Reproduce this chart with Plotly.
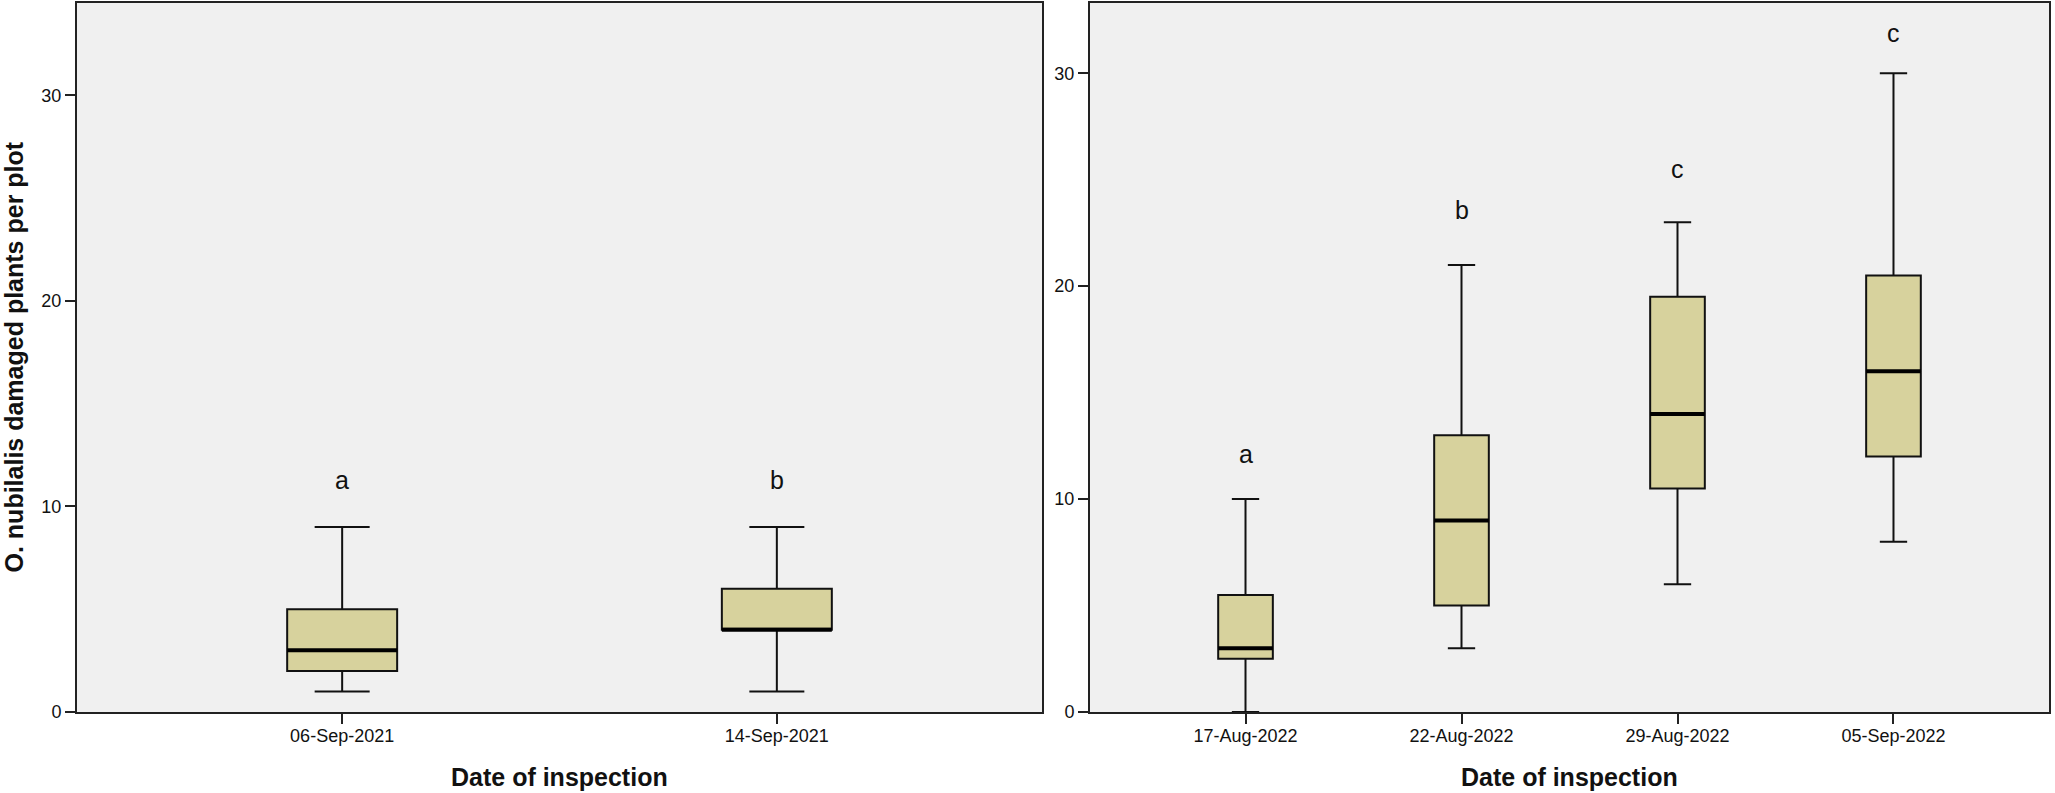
import plotly.graph_objects as go

# ---- data ----
left_dates = ["06-Sep-2021", "14-Sep-2021"]
left_low = [1, 1]
left_q1 = [2, 4]
left_med = [3, 4]
left_q3 = [5, 6]
left_high = [9, 9]
left_letters = ["a", "b"]
left_letter_y = [11.3, 11.3]

right_dates = ["17-Aug-2022", "22-Aug-2022", "29-Aug-2022", "05-Sep-2022"]
right_low = [0, 3, 6, 8]
right_q1 = [2.5, 5, 10.5, 12]
right_med = [3, 9, 14, 16]
right_q3 = [5.5, 13, 19.5, 20.5]
right_high = [10, 21, 23, 30]
right_letters = ["a", "b", "c", "c"]
right_letter_y = [12.1, 23.6, 25.5, 31.9]

y_ticks = [0, 10, 20, 30]

# ---- style ----
W, H = 2055, 793
BOX_W = 0.253
FILL = "#d7d29d"
BG = "#f0f0f0"
FONT = "Liberation Sans, Arial, sans-serif"

fig = go.Figure()


def add_panel(dates, low, q1, med, q3, high, xa, ya):
    pos = list(range(len(dates)))
    fig.add_trace(go.Box(
        x=pos, q1=q1, median=med, q3=q3, lowerfence=low, upperfence=high,
        width=BOX_W, whiskerwidth=0.5, fillcolor=FILL,
        line=dict(color="#111111", width=2), boxpoints=False,
        xaxis=xa, yaxis=ya, showlegend=False, hoverinfo="skip"))
    mx, my = [], []
    for p, m in zip(pos, med):
        mx += [p - BOX_W / 2, p + BOX_W / 2, None]
        my += [m, m, None]
    fig.add_trace(go.Scatter(x=mx, y=my, mode="lines",
                             line=dict(color="black", width=4),
                             xaxis=xa, yaxis=ya, showlegend=False,
                             hoverinfo="skip"))


add_panel(left_dates, left_low, left_q1, left_med, left_q3, left_high, "x", "y")
add_panel(right_dates, right_low, right_q1, right_med, right_q3, right_high, "x2", "y2")

ann = []
for i, (t, yv) in enumerate(zip(left_letters, left_letter_y)):
    ann.append(dict(x=i, y=yv, xref="x", yref="y", text=t, showarrow=False,
                    xanchor="center", yanchor="middle",
                    font=dict(family=FONT, size=25, color="#111")))
for i, (t, yv) in enumerate(zip(right_letters, right_letter_y)):
    ann.append(dict(x=i, y=yv, xref="x2", yref="y2", text=t, showarrow=False,
                    xanchor="center", yanchor="middle",
                    font=dict(family=FONT, size=25, color="#111")))

ydom = [81 / H, 790 / H]
lx = [77 / W, 1042 / W]
rx = [1090 / W, 2049 / W]

title_font = dict(family=FONT, size=25, color="#111")
ann.append(dict(x=14 / W, y=1 - 357.5 / H, xref="paper", yref="paper",
                xanchor="center", yanchor="middle",
                text="<b>O. nubilalis damaged plants per plot</b>", textangle=-90,
                showarrow=False, font=title_font))
ann.append(dict(x=(lx[0] + lx[1]) / 2, y=1 - 777 / H, xref="paper", yref="paper",
                xanchor="center", yanchor="middle",
                text="<b>Date of inspection</b>", showarrow=False, font=title_font))
ann.append(dict(x=(rx[0] + rx[1]) / 2, y=1 - 777 / H, xref="paper", yref="paper",
                xanchor="center", yanchor="middle",
                text="<b>Date of inspection</b>", showarrow=False, font=title_font))

tickfont = dict(family=FONT, size=18, color="#111")
axis_common = dict(showline=True, linewidth=2, linecolor="#222", mirror=True,
                   ticks="outside", ticklen=10, tickwidth=2, tickcolor="#222",
                   showgrid=False, zeroline=False, tickfont=tickfont,
                   automargin=False, fixedrange=True)

fig.update_layout(
    width=W, height=H,
    margin=dict(l=0, r=0, t=0, b=0),
    paper_bgcolor="white", plot_bgcolor=BG,
    annotations=ann,
    xaxis=dict(domain=lx, range=[-0.61, 1.61], tickvals=list(range(len(left_dates))),
               ticktext=left_dates, anchor="y", ticklabelstandoff=-4, **axis_common),
    yaxis=dict(domain=ydom, range=[0, 34.5], tickvals=y_ticks, anchor="x", **axis_common),
    xaxis2=dict(domain=rx, range=[-0.72, 3.72], tickvals=list(range(len(right_dates))),
                ticktext=right_dates, anchor="y2", ticklabelstandoff=-4, **axis_common),
    yaxis2=dict(domain=ydom, range=[0, 33.3], tickvals=y_ticks, anchor="x2", **axis_common),
)

fig.write_html(
    "out.html",
    config={"displayModeBar": False},
    post_script="document.body.style.margin='0';document.body.style.overflow='hidden';",
)
